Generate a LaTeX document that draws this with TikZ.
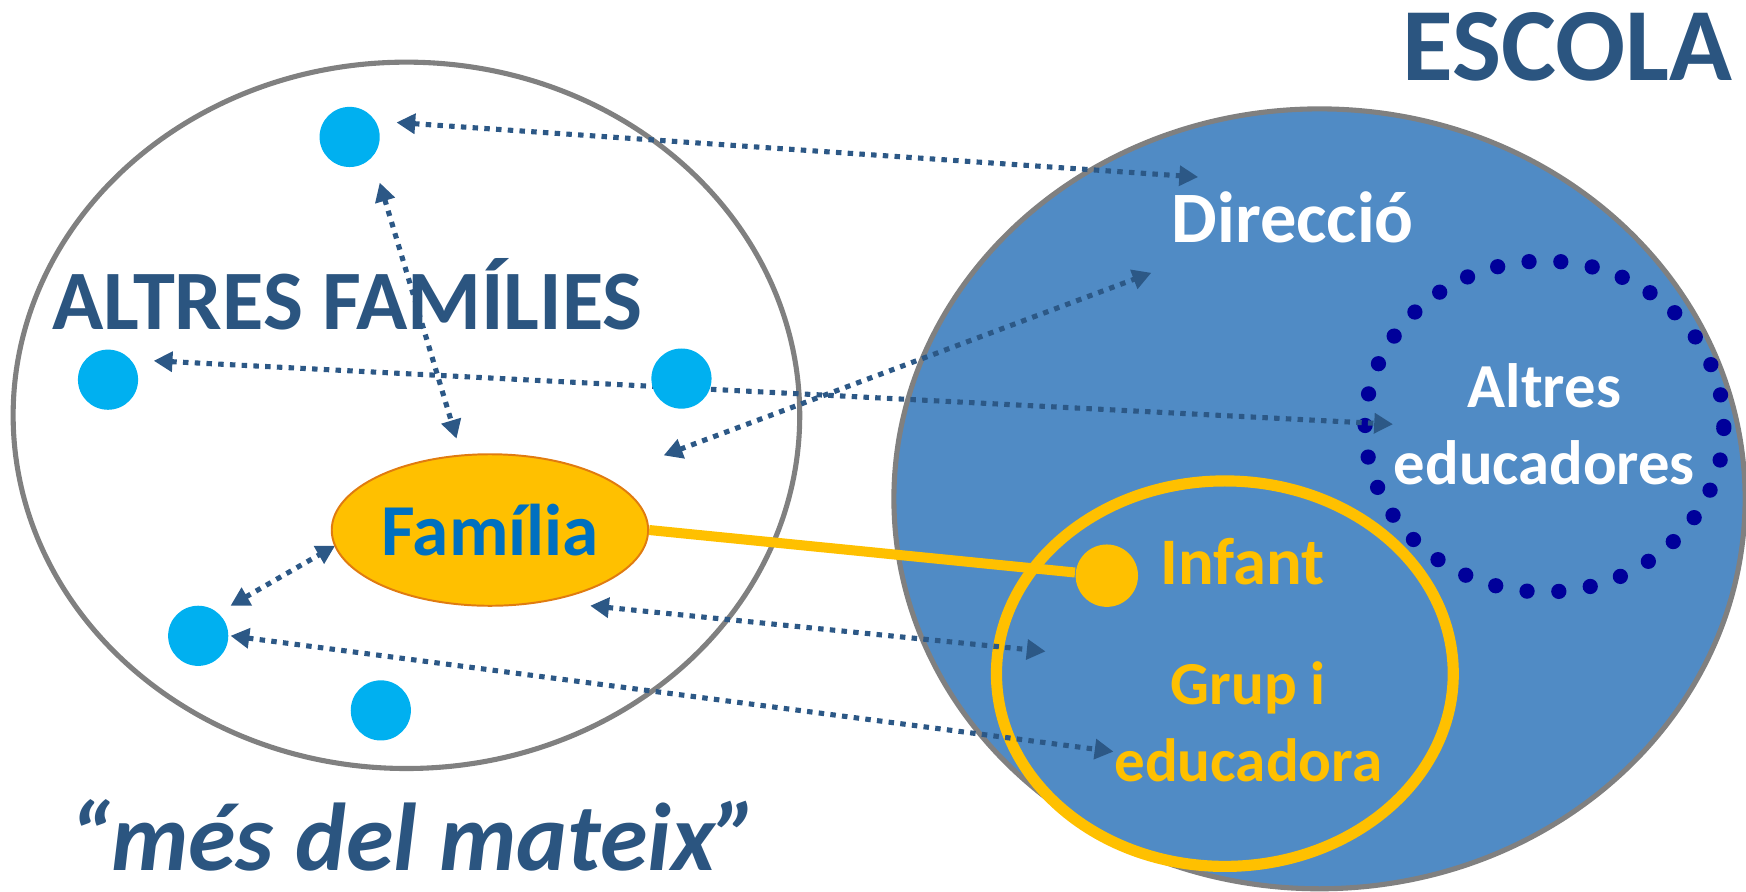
\documentclass[tikz,border=0pt]{standalone}
\usepackage{fontspec}
\setmainfont{Carlito}
\usetikzlibrary{positioning, shapes.geometric, arrows.meta}

\definecolor{navytext}{HTML}{2B5580}
\definecolor{linkblue}{HTML}{2C5886}
\definecolor{schoolblue}{HTML}{508BC5}
\definecolor{famblue}{HTML}{0070C0}
\definecolor{amber}{HTML}{FFC000}
\definecolor{famrim}{HTML}{E07B10}
\definecolor{skyblue}{HTML}{00B0F0}
\definecolor{deepblue}{HTML}{00009A}
\definecolor{rimgray}{HTML}{808080}

\begin{document}
\begin{tikzpicture}[
    x=0.01cm, y=-0.01cm,
    >={Triangle[length=4.8pt, width=5pt]}, % solid triangle tips
    % Styles
    zone/.style={ % big grouping ellipses
        ellipse,
        draw=rimgray,
        line width=1.3pt,
        inner sep=0pt
    },
    member/.style={ % one of the other families
        circle,
        fill=skyblue,
        minimum size=0.54cm,
        inner sep=0pt
    },
    link/.style={ % dotted two-way relation
        <->,
        linkblue,
        line width=1.3pt,
        dash pattern=on 1.4pt off 1.6pt
    },
    tag/.style={ % bold labels, placed on their baseline
        inner sep=0pt,
        text depth=0pt,
        anchor=base
    }
]

    \useasboundingbox (0,0) rectangle (1568,801);

    % Families and school
    \node[zone, minimum width=7.06cm, minimum height=6.34cm] (families) at (365,373) {};
    \node[zone, fill=schoolblue, minimum width=7.64cm, minimum height=7cm] (school) at (1185,448) {};

    % Other educators (ring of dots)
    \node[ellipse, draw=deepblue, line width=3.9pt, line cap=round,
        dash pattern=on 0pt off 8.126pt, inner sep=0pt,
        minimum width=3.22cm, minimum height=2.97cm] (educ) at (1387,383) {};

    % Group and educator
    \node[ellipse, draw=amber, line width=2.85pt, inner sep=0pt,
        minimum width=4.1cm, minimum height=3.46cm] (group) at (1100,605) {};
    \node[circle, fill=amber, minimum size=0.56cm, inner sep=0pt] (child) at (994,517) {};

    % Relations
    \foreach \n/\ax/\ay/\bx/\by in {1/356/110/1076/159, 2/341/164/410/394,
        3/138/324/1251/381, 4/596/409/1034/245, 5/207/544/301/490,
        6/530/544/939/585, 7/207/571/1000/675} {
        \coordinate (s\n) at (\ax,\ay);
        \coordinate (t\n) at (\bx,\by);
        \draw[link] (s\n) -- (t\n);
    }

    % Other families
    \foreach \n/\x/\y in {1/314/123, 2/97/341, 3/612/340, 4/178/571, 5/342/638} {
        \node[member] (d\n) at (\x,\y) {};
    }

    % Own family and link to the child
    \node[ellipse, fill=amber, draw=famrim, line width=0.5pt, inner sep=0pt,
        minimum width=2.84cm, minimum height=1.36cm, text=famblue,
        font=\fontsize{18.7}{22}\selectfont\bfseries] (fam) at (440,476) {Família};
    \draw[amber, line width=2.56pt] (fam.east) -- (child);

    % Labels
    \node[tag, text=navytext, font=\fontsize{26.5}{32}\selectfont\bfseries] (escola) at (1408,72) {ESCOLA};
    \node[tag, text=navytext, font=\fontsize{21.6}{26}\selectfont\bfseries] (altres) at (312,296) {ALTRES FAMÍLIES};
    \node[tag, text=white, font=\fontsize{18.5}{22}\selectfont\bfseries] (direccio) at (1161,218) {Direcció};
    \node[tag, text=amber, font=\fontsize{17}{20}\selectfont\bfseries] (infant) at (1116,525) {Infant};
    \node[inner sep=0pt, align=center, text=white,
        font=\fontsize{16}{19.6}\selectfont\bfseries] (eductext) at (1387,381) {Altres\\educadores};
    \node[inner sep=0pt, align=center, text=amber,
        font=\fontsize{15.6}{19.6}\selectfont\bfseries] (grouptext) at (1121,648) {Grup i\\educadora};
    \node[tag, text=navytext, font=\fontsize{24.6}{28}\selectfont\bfseries\itshape] (same) at (372,782) {“més del mateix”};

\end{tikzpicture}
\end{document}
